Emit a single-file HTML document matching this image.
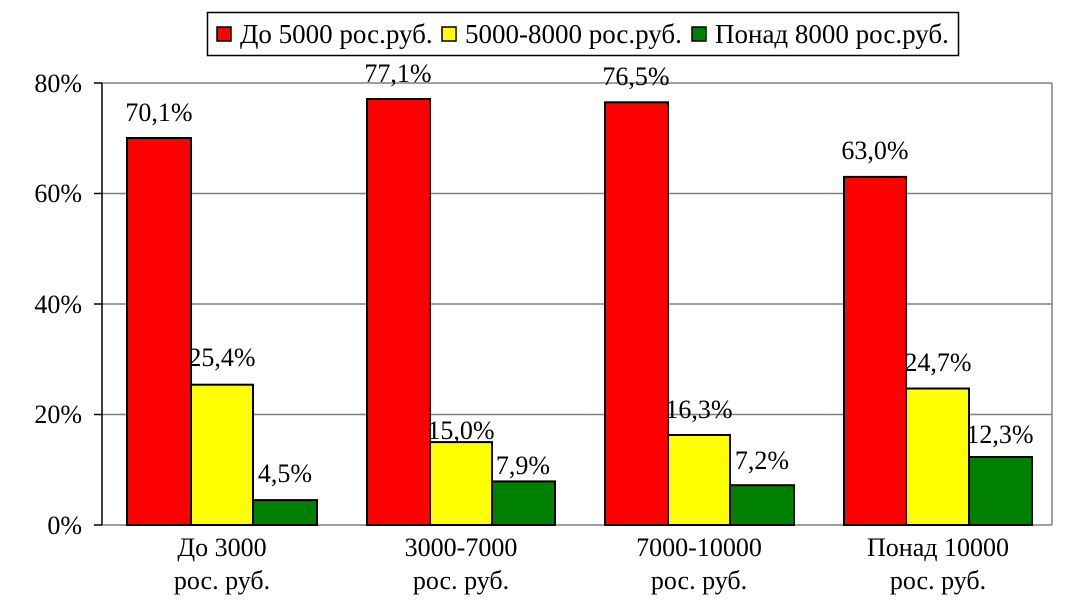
<!DOCTYPE html>
<html><head><meta charset="utf-8"><style>body{margin:0;background:#fff}svg{display:block}</style></head><body>
<svg width="1089" height="605" viewBox="0 0 1089 605" font-family="Liberation Serif, serif" font-size="26">
<rect x="207.5" y="12.5" width="751" height="43" fill="#fff" stroke="#000" stroke-width="1.5"/>
<rect x="217" y="27" width="14" height="14" fill="#f00" stroke="#000" stroke-width="1.5"/>
<text x="240" y="43" font-size="27">До 5000 рос.руб.</text>
<rect x="442" y="27" width="14" height="14" fill="#ff0" stroke="#000" stroke-width="1.5"/>
<text x="465" y="43" font-size="27">5000-8000 рос.руб.</text>
<rect x="692" y="27" width="14" height="14" fill="#008000" stroke="#000" stroke-width="1.5"/>
<text x="715" y="43" font-size="27">Понад 8000 рос.руб.</text>
<g stroke="#808080" stroke-width="1.5">
<line x1="102" y1="83" x2="1052" y2="83"/>
<line x1="102" y1="193.5" x2="1052" y2="193.5"/>
<line x1="102" y1="304" x2="1052" y2="304"/>
<line x1="102" y1="414.5" x2="1052" y2="414.5"/>
<line x1="102" y1="525" x2="1052" y2="525"/>
<line x1="1052" y1="83" x2="1052" y2="525"/>
</g>
<g stroke="#000" stroke-width="1.5">
<line x1="102" y1="83" x2="102" y2="525"/>
<line x1="94" y1="83" x2="102" y2="83"/>
<line x1="94" y1="193.5" x2="102" y2="193.5"/>
<line x1="94" y1="304" x2="102" y2="304"/>
<line x1="94" y1="414.5" x2="102" y2="414.5"/>
<line x1="94" y1="525" x2="102" y2="525"/>
</g>
<g text-anchor="end">
<text x="82" y="92">80%</text><text x="82" y="202">60%</text><text x="82" y="313">40%</text><text x="82" y="423">20%</text><text x="82" y="534">0%</text>
</g>
<g stroke="#000" stroke-width="2">
<rect x="127" y="138.0" width="64" height="387" fill="#f00"/>
<rect x="191" y="384.7" width="62" height="140.3" fill="#ff0"/>
<rect x="253" y="500.1" width="64" height="24.9" fill="#008000"/>
<rect x="367" y="99.0" width="63" height="426" fill="#f00"/>
<rect x="430" y="442.1" width="62" height="82.9" fill="#ff0"/>
<rect x="492" y="481.4" width="63" height="43.6" fill="#008000"/>
<rect x="605" y="102.3" width="63" height="422.7" fill="#f00"/>
<rect x="668" y="435.0" width="62" height="90" fill="#ff0"/>
<rect x="730" y="485.2" width="64" height="39.8" fill="#008000"/>
<rect x="844" y="176.9" width="62" height="348.1" fill="#f00"/>
<rect x="906" y="388.5" width="63" height="136.5" fill="#ff0"/>
<rect x="969" y="457.0" width="63" height="68" fill="#008000"/>
</g>
<g text-anchor="middle">
<text x="159" y="121">70,1%</text><text x="222" y="366">25,4%</text><text x="285" y="482">4,5%</text>
<text x="398" y="82">77,1%</text><text x="461" y="439">15,0%</text><text x="523" y="474">7,9%</text>
<text x="636" y="85">76,5%</text><text x="699" y="418">16,3%</text><text x="762" y="469">7,2%</text>
<text x="875" y="159">63,0%</text><text x="938" y="371">24,7%</text><text x="1000" y="443">12,3%</text>
<text x="222" y="556">До 3000</text><text x="222" y="589">рос. руб.</text>
<text x="461" y="556">3000-7000</text><text x="461" y="589">рос. руб.</text>
<text x="699" y="556">7000-10000</text><text x="699" y="589">рос. руб.</text>
<text x="938" y="556">Понад 10000</text><text x="938" y="589">рос. руб.</text>
</g>
</svg>
</body></html>
